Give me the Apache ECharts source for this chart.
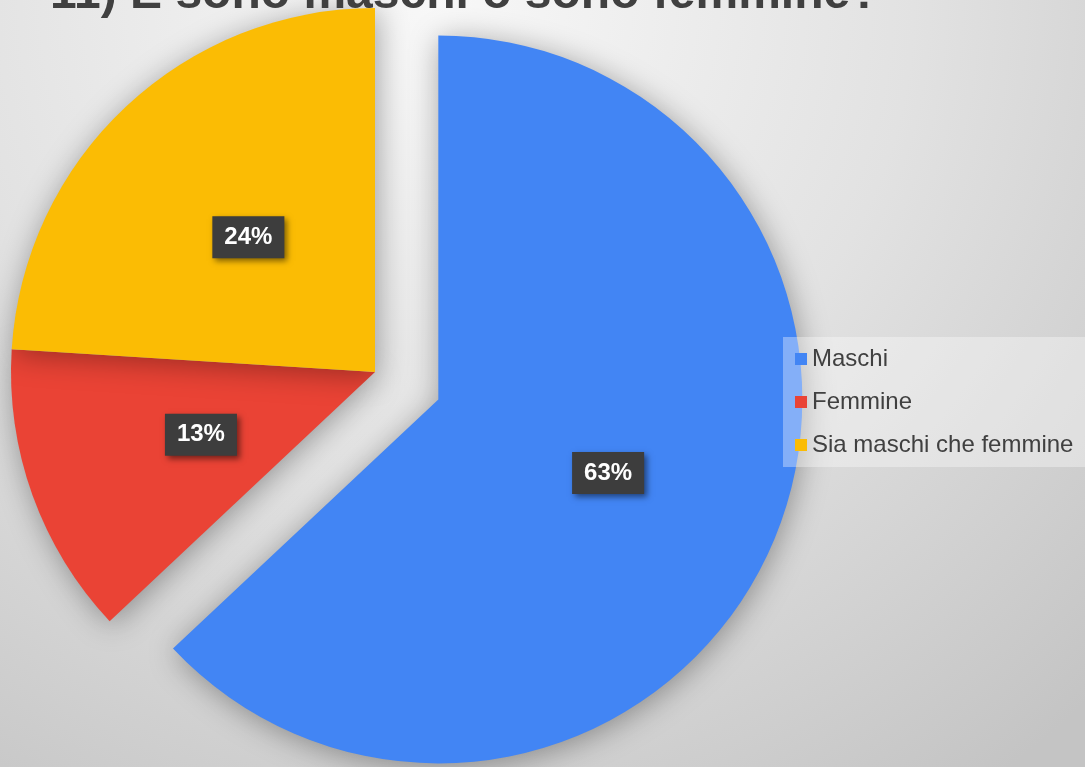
<!DOCTYPE html>
<html>
<head>
<meta charset="utf-8">
<script src="https://cdn.jsdelivr.net/npm/echarts@6/dist/echarts.min.js"></script>
<style>
  html, body { margin: 0; padding: 0; }
  #chart { width: 1085px; height: 767px; }
</style>
</head>
<body>
<div id="chart"></div>
<script>
// dati della domanda 11
const titleText = '11) E sono maschi o sono femmine?'
const categories = ['Maschi', 'Femmine', 'Sia maschi che femmine']
const values = [63, 13, 24]
const colors = ['#4285F4', '#EA4335', '#FBBC04']

const fontName = '"Liberation Sans", Arial, sans-serif'
const myChart = echarts.init(document.getElementById('chart'))

const option = {
  animation: false,
  backgroundColor: {
    type: 'radial',
    x: 0.4,
    y: 0.0,
    r: 1.25,
    colorStops: [
      { offset: 0, color: '#f8f8f8' },
      { offset: 0.5, color: '#e2e2e2' },
      { offset: 1, color: '#c4c4c4' }
    ]
  },
  title: {
    text: titleText,
    left: 45,
    top: -34,
    textStyle: {
      fontFamily: fontName,
      fontSize: 48,
      fontWeight: 'bold',
      color: '#404040'
    }
  },
  legend: {
    orient: 'vertical',
    left: 783,
    top: 337,
    padding: [10, 12, 10, 12],
    itemGap: 19,
    itemWidth: 12,
    itemHeight: 12,
    icon: 'rect',
    selectedMode: false,
    backgroundColor: 'rgba(255,255,255,0.35)',
    data: categories,
    textStyle: {
      fontFamily: fontName,
      fontSize: 24,
      color: '#404040'
    }
  },
  series: [
    {
      type: 'pie',
      center: [375, 372],
      radius: 364,
      startAngle: 90,
      clockwise: true,
      selectedMode: 'single',
      selectedOffset: 69,
      z: 1,
      emphasis: { disabled: true },
      itemStyle: {
        shadowBlur: 30,
        shadowColor: 'rgba(0,0,0,0.35)',
        shadowOffsetX: 2,
        shadowOffsetY: 4
      },
      label: {
        position: 'inside',
        formatter: '{d}%',
        fontFamily: fontName,
        fontSize: 24,
        fontWeight: 'bold',
        color: '#ffffff',
        backgroundColor: '#3d3d3d',
        padding: [10, 12, 8, 12],
        shadowBlur: 6,
        shadowColor: 'rgba(0,0,0,0.5)',
        shadowOffsetX: 3,
        shadowOffsetY: 3
      },
      labelLine: { show: false },
      data: categories.map((name, i) => ({
        name: name,
        value: values[i],
        selected: i === 0,
        itemStyle: { color: colors[i] }
      }))
    }
  ]
}

myChart.setOption(option)
</script>
</body>
</html>
